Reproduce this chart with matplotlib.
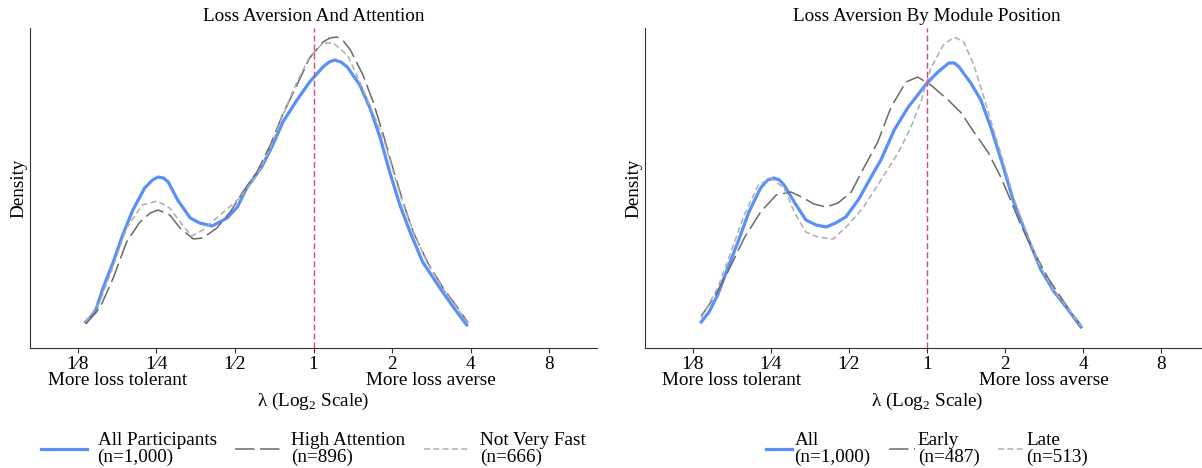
import matplotlib.pyplot as plt

plt.rcParams['font.family'] = ['Liberation Serif', 'DejaVu Serif']
plt.rcParams['mathtext.fontset'] = 'custom'
plt.rcParams['mathtext.rm'] = 'Liberation Serif'
plt.rcParams['font.size'] = 13.8
plt.rcParams['lines.scale_dashes'] = False

# x axis: log2(lambda)
tick_pos = [-3, -2, -1, 0, 1, 2, 3]
tick_labels = ['1⁄8', '1⁄4', '1⁄2', '1', '2', '4', '8']
side_pos = [-2.5, 1.5]
side_labels = ['More loss tolerant', 'More loss averse']

# left panel: attention
all_x = [-2.90, -2.78, -2.68, -2.55, -2.43, -2.30, -2.15, -2.05, -1.98, -1.91, -1.85, -1.73,
         -1.57, -1.45, -1.29, -1.10, -0.97, -0.85, -0.66, -0.53, -0.39, -0.21, -0.05, 0.12,
         0.20, 0.27, 0.35, 0.43, 0.59, 0.72, 0.85, 0.97, 1.10, 1.23, 1.39, 1.61, 1.78, 1.95]
all_y = [0.052, 0.072, 0.120, 0.172, 0.226, 0.276, 0.320, 0.336, 0.342, 0.340, 0.332, 0.296,
         0.260, 0.250, 0.244, 0.260, 0.282, 0.320, 0.362, 0.402, 0.452, 0.496, 0.532, 0.562,
         0.572, 0.576, 0.572, 0.562, 0.526, 0.480, 0.420, 0.352, 0.286, 0.232, 0.172, 0.120,
         0.082, 0.046]

attn_x = [-2.90, -2.72, -2.55, -2.38, -2.21, -2.08, -1.98, -1.83, -1.70, -1.53, -1.41, -1.23,
          -1.06, -0.90, -0.72, -0.55, -0.39, -0.21, -0.05, 0.12, 0.21, 0.30, 0.38, 0.47,
          0.63, 0.76, 0.89, 1.01, 1.14, 1.27, 1.45, 1.65, 1.83, 1.97]
attn_y = [0.048, 0.080, 0.140, 0.212, 0.252, 0.270, 0.276, 0.266, 0.240, 0.218, 0.220, 0.240,
          0.272, 0.312, 0.352, 0.406, 0.468, 0.526, 0.580, 0.612, 0.620, 0.622, 0.614, 0.596,
          0.546, 0.492, 0.426, 0.360, 0.292, 0.232, 0.172, 0.120, 0.082, 0.050]

fast_x = [-2.90, -2.72, -2.55, -2.38, -2.18, -1.99, -1.83, -1.70, -1.55, -1.41, -1.19, -0.94,
          -0.72, -0.55, -0.39, -0.21, -0.05, 0.12, 0.25, 0.43, 0.55, 0.72, 0.89, 1.01,
          1.14, 1.27, 1.45, 1.65, 1.83, 1.97]
fast_y = [0.052, 0.092, 0.164, 0.240, 0.286, 0.294, 0.280, 0.252, 0.224, 0.236, 0.266, 0.300,
          0.346, 0.400, 0.466, 0.532, 0.582, 0.610, 0.610, 0.586, 0.546, 0.484, 0.420, 0.356,
          0.288, 0.234, 0.170, 0.118, 0.080, 0.048]

# right panel: module position
pos_all_x = [-2.89, -2.79, -2.68, -2.55, -2.42, -2.28, -2.13, -2.04, -1.96, -1.89, -1.83, -1.70,
             -1.55, -1.42, -1.29, -1.17, -1.04, -0.88, -0.68, -0.59, -0.42, -0.24, 0.00, 0.14,
             0.28, 0.35, 0.41, 0.56, 0.69, 0.82, 0.97, 1.11, 1.29, 1.46, 1.63, 1.81, 1.97]
pos_all_y = [0.052, 0.072, 0.106, 0.160, 0.212, 0.272, 0.320, 0.336, 0.340, 0.336, 0.326, 0.292,
             0.256, 0.246, 0.242, 0.250, 0.262, 0.296, 0.352, 0.376, 0.436, 0.482, 0.530, 0.552,
             0.570, 0.570, 0.562, 0.530, 0.496, 0.440, 0.366, 0.292, 0.220, 0.156, 0.112, 0.076,
             0.042]

early_x = [-2.89, -2.73, -2.55, -2.34, -2.13, -1.93, -1.74, -1.58, -1.45, -1.29, -1.14, -0.97,
           -0.81, -0.63, -0.46, -0.27, -0.12, 0.05, 0.27, 0.44, 0.60, 0.78, 0.95, 1.08,
           1.20, 1.37, 1.55, 1.72, 1.84, 1.97]
early_y = [0.064, 0.100, 0.152, 0.220, 0.272, 0.306, 0.312, 0.300, 0.288, 0.282, 0.290, 0.312,
           0.360, 0.412, 0.482, 0.532, 0.542, 0.526, 0.496, 0.470, 0.432, 0.392, 0.340, 0.292,
           0.246, 0.192, 0.140, 0.100, 0.072, 0.046]

late_x = [-2.89, -2.68, -2.51, -2.34, -2.16, -2.00, -1.83, -1.70, -1.55, -1.40, -1.20, -1.01,
          -0.81, -0.59, -0.37, -0.21, -0.08, 0.05, 0.21, 0.35, 0.47, 0.60, 0.73, 0.86,
          0.99, 1.11, 1.29, 1.46, 1.63, 1.81, 1.97]
late_y = [0.060, 0.120, 0.192, 0.266, 0.326, 0.340, 0.320, 0.272, 0.232, 0.222, 0.218, 0.246,
          0.282, 0.336, 0.390, 0.440, 0.492, 0.560, 0.606, 0.622, 0.612, 0.566, 0.500, 0.432,
          0.366, 0.300, 0.224, 0.160, 0.114, 0.078, 0.044]

BLUE = '#5b8ff9'
DARK = '#6a6a6a'
LIGHT = '#adadad'
RED = '#d6477a'
AXIS = '#333333'

styles = {
    'solid': dict(color=BLUE, lw=2.3, ls='-'),
    'long': dict(color=DARK, lw=1.1, dashes=(14, 4)),
    'short': dict(color=LIGHT, lw=1.1, dashes=(4.3, 2.4)),
}


def draw_panel(ax, title, series, handle_len, text_pad, col_space):
    for x, y, style, label in series:
        ax.plot(x, y, label=label, **styles[style])
    ax.axvline(0, color=RED, lw=1.0, dashes=(4.3, 2.2))
    ax.set_xlim(-3.61, 3.61)
    ax.set_ylim(0, 0.64)
    ax.set_xticks(tick_pos, tick_labels)
    ax.set_xticks(side_pos, side_labels, minor=True)
    ax.tick_params(axis='x', which='major', length=3.6, width=0.8, color=AXIS, pad=2.5)
    ax.tick_params(axis='x', which='minor', length=0, pad=17.5)
    ax.set_yticks([])
    for s in ['top', 'right']:
        ax.spines[s].set_visible(False)
    for s in ['left', 'bottom']:
        ax.spines[s].set_color(AXIS)
        ax.spines[s].set_linewidth(0.8)
    ax.set_xlabel('λ (Log$_\\mathrm{2}$ Scale)', labelpad=1)
    ax.set_ylabel('Density', labelpad=2)
    ax.set_title(title, fontsize=13.8, pad=5)
    leg = ax.legend(loc='upper center', bbox_to_anchor=(0.5, -0.21), ncol=3, frameon=False,
                    handlelength=handle_len, handletextpad=text_pad, columnspacing=col_space)
    for t in leg.get_texts():
        t.set_linespacing(0.95)


fig = plt.figure(figsize=(12.02, 4.68), dpi=100)
ax1 = fig.add_axes([30 / 1202, 120 / 468, 567 / 1202, 320 / 468])
ax2 = fig.add_axes([645 / 1202, 120 / 468, 564 / 1202, 320 / 468])

draw_panel(ax1, 'Loss Aversion And Attention', [
    (all_x, all_y, 'solid', 'All Participants\n(n=1,000)'),
    (attn_x, attn_y, 'long', 'High Attention\n(n=896)'),
    (fast_x, fast_y, 'short', 'Not Very Fast\n(n=666)'),
], 2.4, 0.55, 0.95)

draw_panel(ax2, 'Loss Aversion By Module Position', [
    (pos_all_x, pos_all_y, 'solid', 'All\n(n=1,000)'),
    (early_x, early_y, 'long', 'Early\n(n=487)'),
    (late_x, late_y, 'short', 'Late\n(n=513)'),
], 1.35, 0.15, 0.95)

fig.savefig('out.png', dpi=100)
